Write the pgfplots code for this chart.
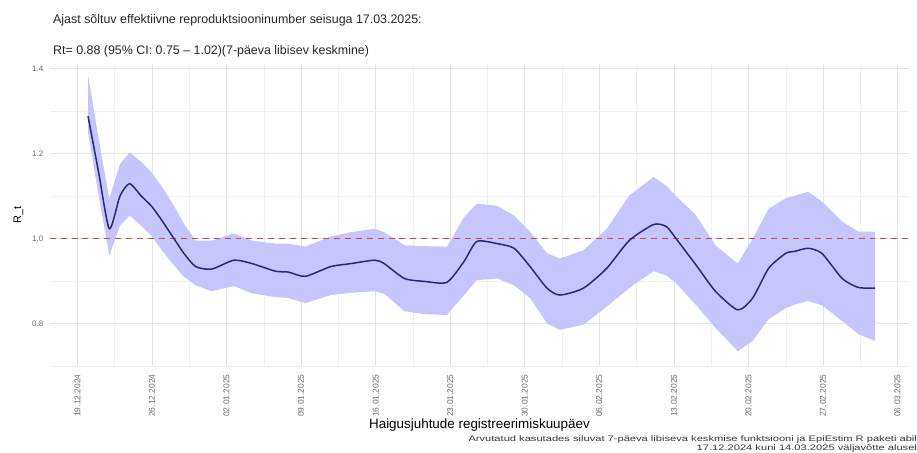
\documentclass[border=0pt]{standalone}
\usepackage{pgfplots}
\pgfplotsset{compat=1.18}
\usepackage{pgfplotstable}
\usepackage{fontspec}
\setmainfont{Liberation Sans}
\definecolor{bandcol}{RGB}{198,198,252}
\definecolor{linecol}{RGB}{40,40,115}
\definecolor{refcol}{RGB}{200,75,75}
\definecolor{tickcol}{RGB}{110,110,110}
\pgfplotstableread{
d v
1.0 1.288
2.0 1.155
3.0 1.023
4.0 1.100
4.9 1.129
6.0 1.100
7.0 1.075
8.0 1.040
9.06 1.000
10.0 0.965
11.1 0.934
12.6 0.928
14.7 0.949
16.4 0.941
18.6 0.923
19.8 0.921
21.4 0.911
23.8 0.934
25.7 0.941
27.9 0.949
28.8 0.941
30.7 0.906
32.6 0.899
34.7 0.897
36.3 0.946
37.5 0.993
39.4 0.988
41.0 0.977
42.5 0.934
44.1 0.883
45.3 0.867
47.5 0.883
49.7 0.930
51.8 0.995
54.1 1.033
55.3 1.028
56.2 1.000
58.1 0.937
59.9 0.876
62.0 0.832
63.4 0.860
64.9 0.930
66.5 0.965
67.4 0.970
68.6 0.977
69.9 0.965
71.8 0.906
73.3 0.885
74.9 0.883
}\rt
% band: upper bound forward, then lower bound backward
\pgfplotstableread{
d b
1.0 1.385
2.0 1.235
3.0 1.094
4.0 1.175
4.9 1.203
6.0 1.180
7.0 1.155
8.0 1.120
9.06 1.077
10.0 1.035
11.1 0.995
12.6 0.995
14.7 1.012
16.4 0.995
18.6 0.988
19.8 0.988
21.4 0.981
23.8 1.005
25.7 1.015
27.9 1.023
28.8 1.015
30.7 0.984
32.6 0.982
34.7 0.981
36.3 1.050
37.5 1.082
39.4 1.077
41.0 1.054
42.5 1.016
44.1 0.965
45.3 0.953
47.5 0.972
49.7 1.023
51.8 1.101
54.1 1.145
55.3 1.124
56.2 1.100
58.1 1.054
59.9 0.984
62.0 0.941
63.4 1.000
64.9 1.070
66.5 1.095
67.4 1.101
68.6 1.110
69.9 1.087
71.8 1.040
73.3 1.016
74.9 1.016
74.9 0.759
73.3 0.775
71.8 0.806
69.9 0.843
68.6 0.853
67.4 0.845
66.5 0.836
64.9 0.810
63.4 0.759
62.0 0.735
59.9 0.790
58.1 0.843
56.2 0.895
55.3 0.913
54.1 0.923
51.8 0.883
49.7 0.840
47.5 0.797
45.3 0.785
44.1 0.800
42.5 0.860
41.0 0.890
39.4 0.906
37.5 0.902
36.3 0.867
34.7 0.820
32.6 0.822
30.7 0.829
28.8 0.870
27.9 0.876
25.7 0.872
23.8 0.867
21.4 0.848
19.8 0.860
18.6 0.862
16.4 0.871
14.7 0.888
12.6 0.876
11.1 0.890
10.0 0.910
9.06 0.937
8.0 0.970
7.0 1.005
6.0 1.030
4.9 1.054
4.0 1.030
3.0 0.960
2.0 1.100
1.0 1.250
}\band
\begin{document}
\begin{tikzpicture}
\path (0,0) rectangle (917pt,455pt);
\begin{axis}[
  at={(50pt,86.7pt)}, anchor=south west,
  width=865pt, height=303.6pt, scale only axis,
  xmin=-2.6, xmax=78.1, ymin=0.70, ymax=1.41,
  axis line style={draw=none}, tick style={draw=none},
  grid=both,
  major grid style={draw=gray!22, line width=0.7pt},
  minor grid style={draw=gray!12, line width=0.4pt},
  xtick={0,7,...,77},
  minor xtick={3.5,10.5,...,74},
  xticklabels={19.12.2024,26.12.2024,02.01.2025,09.01.2025,16.01.2025,23.01.2025,30.01.2025,06.02.2025,13.02.2025,20.02.2025,27.02.2025,06.03.2025},
  ytick={0.8,1.0,1.2,1.4},
  minor ytick={0.7,0.9,1.1,1.3},
  yticklabel style={/pgf/number format/fixed,/pgf/number format/fixed zerofill,/pgf/number format/precision=1, font=\fontsize{8}{9}\selectfont, text=tickcol, xshift=-3pt},
  /pgf/number format/assume math mode=true,
  xticklabel style={rotate=90, anchor=east, font=\fontsize{8.5}{10}\selectfont, text=tickcol, xshift=-5pt},
  xlabel={Haigusjuhtude registreerimiskuupäev},
  xlabel style={font=\fontsize{13.5}{15}\selectfont, yshift=5pt},
  ylabel={R\_t},
  ylabel style={font=\fontsize{11}{13}\selectfont, yshift=2pt},
]
\addplot[draw=none, fill=bandcol] table[x=d, y=b] {\band} -- cycle;
\addplot[refcol, dash pattern=on 6pt off 5pt, line width=0.8pt] coordinates {(-2.6,1.0) (78.1,1.0)};
\addplot[linecol, line width=1.5pt, smooth, tension=0.4] table[x=d, y=v] {\rt};
\end{axis}
\node[anchor=base west, font=\fontsize{12.5}{14}\selectfont, text=black!85] at (50pt,431pt) {Ajast sõltuv effektiivne reproduktsiooninumber seisuga 17.03.2025:};
\node[anchor=base west, font=\fontsize{12.5}{14}\selectfont, text=black!85] at (50pt,400pt) {Rt= 0.88 (95\% CI: 0.75 – 1.02)(7-päeva libisev keskmine)};
\node[anchor=base east, font=\fontsize{8}{9}\selectfont, text=black!80, inner sep=0pt] at (923pt,11pt) {\scalebox{1.4}[1]{Arvutatud kasutades siluvat 7-päeva libiseva keskmise funktsiooni ja EpiEstim R paketi abil}};
\node[anchor=base east, font=\fontsize{8}{9}\selectfont, text=black!80, inner sep=0pt] at (923pt,2pt) {\scalebox{1.4}[1]{17.12.2024 kuni 14.03.2025 väljavõtte alusel}};
\end{tikzpicture}
\end{document}
